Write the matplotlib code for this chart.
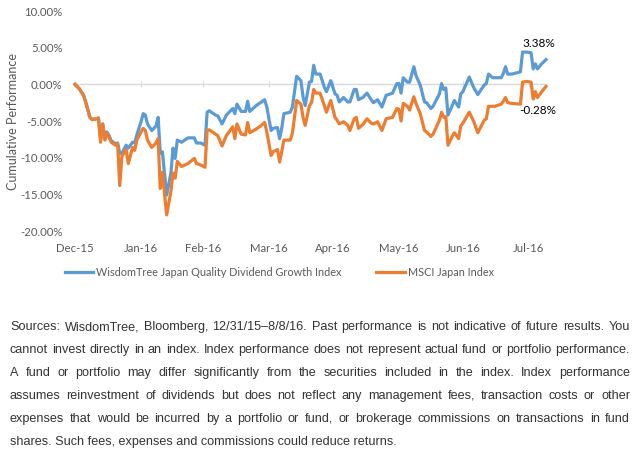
import pandas as pd
import matplotlib
matplotlib.use("Agg")
import matplotlib.pyplot as plt
from matplotlib.ticker import FuncFormatter

# days after 12/31/15
day_offsets = [0, 2, 4, 5, 7, 8, 10, 11, 12, 13, 14, 15, 16, 17, 19, 20, 21, 22, 24, 25,
               27, 28, 29, 31, 32, 33, 34, 36, 38, 39, 40, 41, 43, 45, 46, 47, 48, 50, 53, 56,
               57, 59, 61, 62, 63, 66, 67, 69, 71, 74, 75, 76, 78, 80, 81, 82, 85, 87, 89, 90,
               92, 93, 95, 96, 97, 98, 101, 102, 104, 106, 107, 108, 110, 111, 112, 113, 115, 117, 118, 120,
               122, 123, 124, 126, 128, 129, 131, 132, 133, 135, 137, 139, 140, 142, 144, 146, 149, 151, 152, 153,
               154, 156, 157, 159, 160, 162, 164, 165, 167, 168, 171, 172, 173, 174, 175, 177, 178, 180, 181, 182,
               185, 187, 189, 192, 193, 194, 196, 197, 200, 201, 202, 203, 205, 209, 210, 212, 214, 215, 216, 217,
               219, 221]

wisdomtree = [0, -0.6, -1.5, -2.4, -4.5, -4.8, -4.7, -4.6, -7.4, -5.4, -7.2, -6.5, -7.0, -7.7, -8.1, -8.0, -9.4, -9.4, -8.3, -8.7,
              -7.9, -8.0, -6.9, -5.1, -4.0, -4.2, -5.4, -6.3, -5.7, -4.5, -9.4, -9.2, -15.1, -12.1, -8.7, -10.1, -7.6, -7.9, -7.3, -7.3,
              -8.0, -8.0, -8.3, -3.8, -3.6, -4.2, -4.3, -5.4, -4.2, -3.3, -4.0, -2.7, -3.7, -3.7, -2.3, -3.7, -2.9, -2.5, -2.1, -3.1,
              -6.3, -6.0, -5.9, -7.4, -6.0, -4.0, -3.8, -3.1, 1.1, 0.5, -1.7, -2.9, 0.3, 0.4, 2.6, 1.4, 1.4, -0.4, -1.0, 0.5,
              -1.3, -1.5, -2.4, -1.8, -2.4, -2.4, -0.7, -0.7, -2.1, -1.8, -1.2, -2.1, -2.5, -2.1, -3.1, -1.5, -1.2, 0.1, 0.1, -1.2,
              0.9, 0.3, 0.3, 2.4, 1.2, -0.1, -2.4, -2.5, -3.3, -3.0, -1.3, 0.1, -0.7, -0.5, -4.2, -2.9, -2.2, -3.1, -1.3, -1.0,
              1.0, -0.4, -1.4, -0.1, 0.1, 1.4, 0.9, 0.9, 0.9, 1.5, 2.4, 1.4, 1.4, 1.7, 4.4, 4.4, 4.3, 2.1, 2.8, 2.1,
              2.8, 3.38]

msci_japan = [0, -0.6, -1.5, -2.4, -4.5, -4.8, -4.7, -4.6, -7.9, -5.4, -7.6, -6.7, -7.2, -7.9, -8.3, -8.1, -13.8, -9.8, -8.9, -10.8,
              -8.6, -9.0, -7.6, -6.5, -6.0, -6.3, -7.6, -8.6, -8.0, -7.4, -14.2, -12.0, -17.8, -14.6, -12.1, -12.8, -10.5, -11.2, -10.8, -10.1,
              -10.8, -11.0, -11.3, -6.3, -6.2, -6.8, -7.0, -8.4, -7.0, -5.8, -7.4, -5.4, -6.8, -6.9, -5.2, -6.6, -6.1, -5.7, -5.2, -6.5,
              -9.7, -9.2, -8.9, -10.6, -9.2, -7.6, -7.6, -6.7, -2.2, -2.7, -4.5, -5.6, -2.9, -2.5, -0.7, -1.2, -1.2, -2.9, -3.8, -2.2,
              -4.5, -4.9, -5.4, -5.1, -5.6, -6.3, -4.7, -4.5, -6.0, -5.5, -4.7, -5.3, -5.4, -5.1, -6.3, -4.7, -4.5, -3.3, -3.4, -5.0,
              -2.6, -3.0, -3.5, -1.7, -2.6, -4.0, -6.3, -6.5, -7.1, -6.8, -4.9, -3.8, -4.5, -4.4, -8.3, -7.1, -6.6, -7.4, -5.7, -5.3,
              -3.8, -5.0, -6.6, -4.9, -4.7, -3.0, -3.0, -3.0, -2.7, -2.3, -1.8, -2.5, -2.6, -2.7, 0.3, 0.4, 0.3, -2.0, -1.0, -1.8,
              -1.0, -0.28]

series_names = ["WisdomTree Japan Quality Dividend Growth Index", "MSCI Japan Index"]
tick_dates = ["2015-12-31", "2016-01-31", "2016-02-29", "2016-03-31",
              "2016-04-30", "2016-05-31", "2016-06-30", "2016-07-31"]
tick_labels = ["Dec-15", "Jan-16", "Feb-16", "Mar-16", "Apr-16", "May-16", "Jun-16", "Jul-16"]

caption_lines = [
    "Sources: WisdomTree, Bloomberg, 12/31/15\u20138/8/16. Past performance is not indicative of future results. You",
    "cannot invest directly in an index. Index performance does not represent actual fund or portfolio performance.",
    "A fund or portfolio may differ significantly from the securities included in the index. Index performance",
    "assumes reinvestment of dividends but does not reflect any management fees, transaction costs or other",
    "expenses that would be incurred by a portfolio or fund, or brokerage commissions on transactions in fund",
    "shares. Such fees, expenses and commissions could reduce returns.",
]

BLUE = "#5B9BD5"
ORANGE = "#ED7D31"
GREY = "#595959"
W, H = 641, 459

dates = pd.Timestamp("2015-12-31") + pd.to_timedelta(day_offsets, unit="D")

fig = plt.figure(figsize=(W / 100, H / 100), dpi=100)
ax = fig.add_axes([75 / W, 1 - 231 / H, (546 - 75) / W, 220 / H])

ax.plot(dates, wisdomtree, color=BLUE, lw=2.3, clip_on=False, solid_joinstyle="round",
        label=series_names[0], zorder=3)
ax.plot(dates, msci_japan, color=ORANGE, lw=2.3, clip_on=False, solid_joinstyle="round",
        label=series_names[1], zorder=3)

ax.set_xlim(dates[0], dates[-1])
ax.set_ylim(-20, 10)
ax.set_yticks([-20, -15, -10, -5, 0, 5, 10])
ax.yaxis.set_major_formatter(FuncFormatter(lambda v, p: f"{v:.2f}%"))
ax.tick_params(axis="y", length=0, pad=9, labelsize=8.2, labelcolor=GREY)

# x axis line sits at 0, labels at the bottom
tdates = pd.to_datetime(tick_dates)
for s in ["top", "right", "left"]:
    ax.spines[s].set_visible(False)
ax.spines["bottom"].set_position(("data", 0))
ax.spines["bottom"].set_color("#D9D9D9")
ax.spines["bottom"].set_linewidth(1)
ax.set_xticks(tdates)
ax.tick_params(axis="x", direction="inout", length=5, color="#D9D9D9", labelbottom=False)

sec = ax.secondary_xaxis("bottom")
sec.set_xticks(tdates, tick_labels)
sec.tick_params(length=0, pad=9, labelsize=8.2, labelcolor=GREY)
sec.spines["bottom"].set_visible(False)

for lab in ax.get_yticklabels() + sec.get_xticklabels():
    lab.set_family("Lato")

ax.set_ylabel("Cumulative Performance", fontsize=9, color=GREY, family="Lato", va="center")
ax.yaxis.set_label_coords(-(75 - 13) / 471, 0.5)

# end-point labels
ax.annotate(f"{wisdomtree[-1]:.2f}%", (dates[-1], wisdomtree[-1]), xytext=(-7, 16),
            textcoords="offset pixels", ha="center", va="center", fontsize=8.5, family="Lato")
ax.annotate(f"{msci_japan[-1]:.2f}%", (dates[-1], msci_japan[-1]), xytext=(-8, -24),
            textcoords="offset pixels", ha="center", va="center", fontsize=8.5, family="Lato")

leg = fig.legend(loc="center left", bbox_to_anchor=(65 / W, 1 - 272 / H), ncol=2, frameon=False,
                 borderpad=0, borderaxespad=0, handlelength=2.6, handletextpad=0.3,
                 columnspacing=3.2, prop={"family": "Lato", "size": 7.8})
for t in leg.get_texts():
    t.set_color(GREY)

# justified caption below the chart
fig.canvas.draw()
r = fig.canvas.get_renderer()
probe = fig.text(0, 0, caption_lines[1], fontsize=10, family="Liberation Sans")
cap_size = 10 * 616 / probe.get_window_extent(r).width
probe.remove()

left, right = 10, 630
for i, line in enumerate(caption_lines):
    y = 1 - (327 + 22.9 * i) / H
    if i == len(caption_lines) - 1:
        fig.text(left / W, y, line, fontsize=cap_size, family="Liberation Sans",
                 color="#333333", va="center")
        continue
    words = line.split(" ")
    texts = [fig.text(0, y, w, fontsize=cap_size, family="Liberation Sans",
                      color="#333333", va="center") for w in words]
    widths = [t.get_window_extent(r).width for t in texts]
    gap = (right - left - sum(widths)) / (len(words) - 1)
    x = left
    for t, w in zip(texts, widths):
        t.set_x(x / W)
        x += w + gap

fig.savefig("out.png", dpi=100)
